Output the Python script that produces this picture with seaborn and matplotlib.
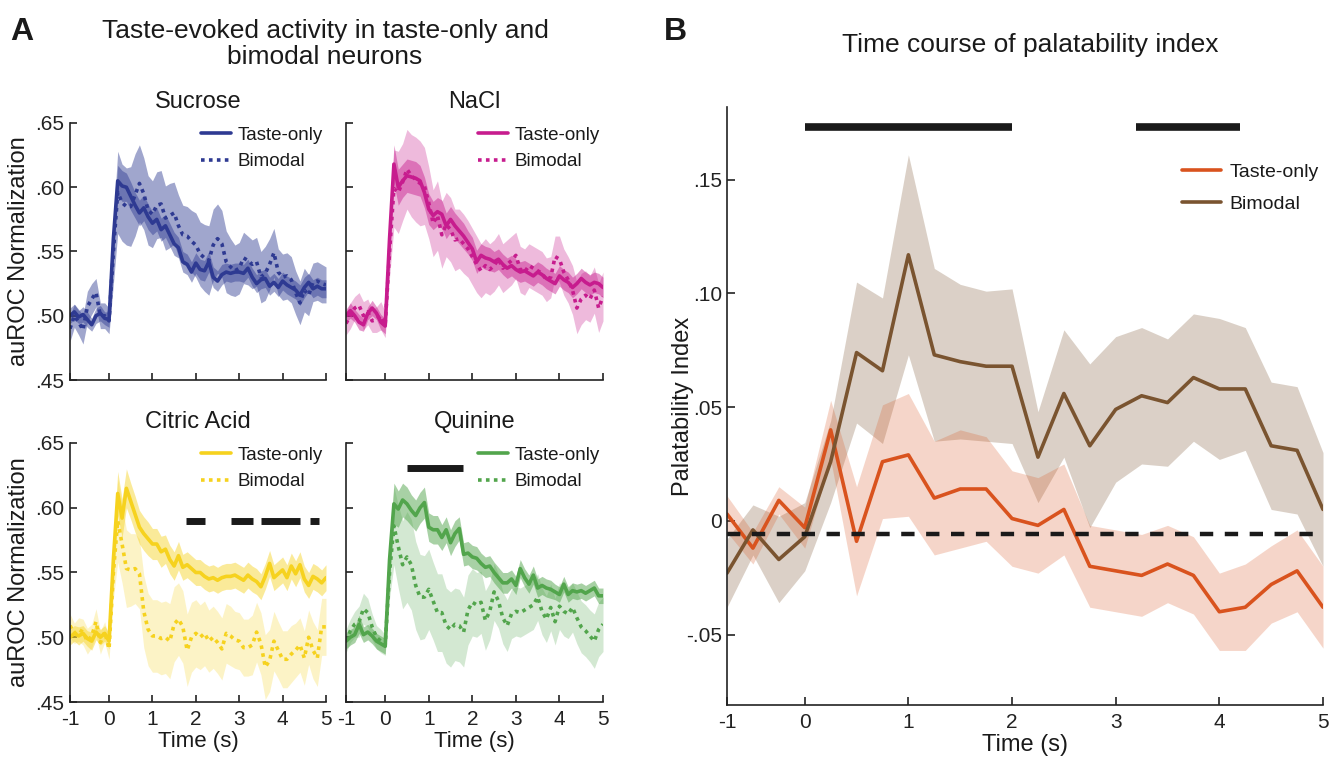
import numpy as np
import pandas as pd
import matplotlib
matplotlib.use("Agg")
import matplotlib.pyplot as plt
import seaborn as sns

# ---------------- panel A data (auROC, 0.1 s bins, first bin at -0.9 s) ----------------
timeA = np.round(np.linspace(-0.9, 5.0, 60), 2)

sucrose_taste = [.500, .503, .499, .501, .497, .493, .500, .502, .498, .497,
                 .560, .605, .601, .600, .593, .586, .580, .584, .577, .572,
                 .575, .567, .570, .563, .556, .553, .542, .540, .534, .541,
                 .536, .535, .542, .530, .527, .532, .534, .533, .534, .534,
                 .533, .537, .530, .525, .528, .529, .523, .526, .522, .527,
                 .524, .522, .520, .516, .522, .526, .521, .523, .521, .521]
sucrose_taste_sem = [.006, .006, .005, .006, .006, .005, .006, .006, .005, .006,
                     .010, .012, .012, .011, .011, .010, .010, .010, .010, .009,
                     .009, .009, .009, .009, .009, .008, .008, .008, .008, .008,
                     .008, .008, .008, .008, .008, .008, .007, .007, .007, .007,
                     .007, .007, .007, .007, .007, .007, .007, .007, .007, .007,
                     .007, .007, .007, .008, .008, .007, .007, .007, .007, .007]
sucrose_bim = [.490, .500, .495, .489, .507, .513, .518, .500, .500, .496,
               .550, .596, .588, .585, .585, .594, .603, .595, .582, .579,
               .586, .587, .576, .578, .580, .570, .563, .562, .558, .555,
               .548, .545, .543, .555, .560, .556, .542, .538, .535, .537,
               .545, .543, .540, .542, .530, .533, .540, .549, .534, .530,
               .531, .528, .518, .510, .520, .516, .526, .527, .525, .524]
sucrose_bim_sem = [.010, .009, .010, .011, .012, .012, .011, .010, .010, .010,
                   .025, .032, .030, .030, .031, .032, .030, .028, .027, .026,
                   .026, .026, .025, .025, .024, .024, .023, .023, .024, .025,
                   .025, .026, .027, .028, .027, .026, .024, .022, .020, .020,
                   .020, .019, .019, .019, .020, .021, .020, .019, .018, .018,
                   .018, .018, .017, .017, .017, .016, .015, .015, .015, .014]

nacl_taste = [.500, .504, .500, .495, .493, .502, .506, .502, .495, .492,
              .560, .618, .600, .605, .609, .608, .607, .605, .596, .583,
              .578, .581, .579, .570, .575, .570, .566, .562, .557, .552,
              .542, .547, .545, .544, .542, .544, .540, .537, .539, .536,
              .534, .535, .533, .531, .534, .532, .529, .527, .525, .531,
              .528, .526, .522, .525, .529, .526, .524, .526, .525, .522]
nacl_taste_sem = [.005, .006, .005, .006, .005, .005, .006, .005, .006, .006,
                  .012, .015, .014, .013, .013, .013, .013, .012, .012, .012,
                  .011, .011, .011, .010, .010, .010, .010, .010, .009, .009,
                  .009, .009, .009, .009, .008, .008, .008, .008, .008, .008,
                  .008, .008, .008, .008, .008, .008, .008, .008, .008, .008,
                  .008, .008, .008, .008, .008, .008, .008, .008, .008, .008]
nacl_bim = [.494, .500, .506, .508, .500, .503, .496, .497, .500, .493,
            .550, .599, .596, .604, .614, .609, .606, .603, .601, .588,
            .572, .578, .563, .571, .567, .559, .560, .556, .552, .546,
            .540, .535, .539, .536, .539, .544, .537, .540, .543, .547,
            .536, .534, .539, .537, .535, .533, .528, .530, .546, .544,
            .534, .528, .520, .506, .513, .516, .513, .520, .506, .515]
nacl_bim_sem = [.009, .010, .009, .010, .011, .010, .009, .010, .011, .010,
                .020, .030, .032, .030, .031, .032, .033, .033, .030, .028,
                .026, .027, .026, .025, .025, .024, .023, .023, .022, .022,
                .022, .021, .021, .020, .020, .020, .019, .019, .019, .018,
                .018, .018, .017, .017, .017, .017, .017, .016, .016, .018,
                .018, .018, .019, .020, .020, .019, .018, .018, .019, .019]

citric_taste = [.500, .503, .501, .503, .499, .497, .504, .500, .503, .497,
                .560, .611, .592, .615, .605, .595, .585, .580, .576, .572,
                .572, .566, .568, .560, .555, .563, .554, .556, .553, .550,
                .550, .547, .545, .546, .544, .546, .547, .547, .548, .546,
                .544, .548, .545, .543, .539, .547, .557, .546, .549, .552,
                .546, .555, .549, .556, .545, .540, .547, .545, .542, .546]
citric_taste_sem = [.006, .006, .007, .006, .006, .007, .006, .006, .006, .006,
                    .015, .017, .015, .015, .014, .014, .013, .013, .013, .012,
                    .012, .012, .011, .011, .011, .011, .010, .010, .010, .010,
                    .010, .010, .010, .010, .010, .010, .010, .010, .010, .010,
                    .010, .010, .010, .010, .010, .010, .010, .010, .010, .010,
                    .010, .010, .010, .010, .010, .010, .010, .010, .010, .010]
citric_bim = [.509, .503, .506, .504, .497, .501, .512, .496, .504, .491,
              .550, .590, .572, .553, .552, .553, .549, .520, .506, .501,
              .501, .499, .500, .497, .510, .514, .508, .490, .500, .503,
              .500, .503, .497, .500, .496, .491, .503, .501, .498, .497,
              .492, .492, .494, .504, .495, .477, .482, .497, .490, .483,
              .483, .487, .490, .494, .484, .500, .490, .484, .508, .508]
citric_bim_sem = [.009, .008, .009, .010, .010, .009, .010, .009, .008, .008,
                  .020, .032, .030, .030, .028, .027, .027, .028, .028, .028,
                  .028, .028, .028, .029, .029, .028, .028, .028, .027, .026,
                  .025, .025, .024, .024, .024, .024, .023, .023, .022, .022,
                  .022, .022, .023, .023, .024, .025, .024, .023, .022, .022,
                  .022, .022, .021, .021, .021, .021, .022, .022, .022, .022]

quinine_taste = [.497, .500, .502, .510, .502, .504, .501, .497, .495, .493,
                 .560, .603, .599, .606, .603, .598, .594, .600, .604, .585,
                 .583, .583, .577, .583, .573, .580, .584, .564, .565, .562,
                 .561, .557, .554, .555, .550, .546, .542, .542, .545, .540,
                 .553, .546, .541, .548, .538, .540, .538, .537, .535, .533,
                 .541, .533, .536, .535, .536, .534, .536, .538, .532, .532]
quinine_taste_sem = [.006, .006, .006, .007, .006, .006, .006, .006, .006, .006,
                     .014, .016, .014, .013, .013, .012, .012, .012, .012, .011,
                     .011, .011, .010, .010, .010, .010, .009, .009, .009, .009,
                     .009, .008, .008, .008, .008, .008, .008, .008, .007, .007,
                     .007, .007, .007, .007, .007, .007, .007, .007, .006, .006,
                     .006, .006, .006, .006, .006, .006, .006, .006, .006, .006]
quinine_bim = [.497, .505, .510, .512, .522, .519, .508, .500, .497, .494,
               .550, .586, .570, .556, .562, .556, .540, .531, .531, .537,
               .528, .519, .519, .509, .506, .510, .509, .504, .521, .527,
               .525, .527, .513, .520, .535, .528, .515, .509, .518, .520,
               .519, .521, .523, .525, .531, .520, .514, .523, .512, .524,
               .520, .518, .523, .515, .508, .505, .501, .497, .506, .510]
quinine_bim_sem = [.009, .009, .010, .012, .012, .011, .010, .009, .009, .008,
                   .020, .030, .032, .034, .035, .035, .034, .033, .032, .031,
                   .030, .030, .030, .029, .029, .028, .028, .027, .027, .026,
                   .025, .024, .023, .022, .022, .021, .020, .020, .019, .019,
                   .019, .019, .019, .019, .018, .018, .018, .018, .018, .018,
                   .019, .019, .019, .020, .020, .020, .020, .021, .021, .021]

# significance bars (start, end) in s, and bar height
citric_sig = [(1.78, 2.2), (2.82, 3.32), (3.51, 4.41), (4.63, 4.85)]
citric_sig_y = 0.590
quinine_sig = [(0.51, 1.79)]
quinine_sig_y = 0.631

# ---------------- panel B data (palatability index, 0.25 s bins) ----------------
timeB = [-0.75, -0.5, -0.25, 0.0, 0.25, 0.5, 0.75, 1.0, 1.25, 1.5, 1.75, 2.0,
         2.25, 2.5, 2.75, 3.0, 3.25, 3.5, 3.75, 4.0, 4.25, 4.5, 4.75, 5.0]
pal_taste = [.003, -.012, .009, -.003, .040, -.009, .026, .029, .010, .014, .014, .001,
             -.002, .005, -.020, -.022, -.024, -.019, -.024, -.040, -.038, -.028, -.022, -.038]
pal_taste_sem = [.008, .007, .006, .009, .013, .024, .025, .027, .025, .026, .023, .021,
                 .021, .020, .018, .018, .018, .017, .017, .017, .019, .017, .018, .018]
pal_bim = [-.023, -.004, -.017, -.007, .026, .074, .066, .117, .073, .070, .068, .068,
           .028, .056, .033, .049, .055, .052, .063, .058, .058, .033, .031, .005]
pal_bim_sem = [.015, .011, .019, .015, .018, .031, .032, .044, .038, .034, .033, .034,
               .020, .028, .036, .032, .030, .028, .028, .031, .027, .028, .028, .025]
pal_threshold = -0.006
pal_sig = [(0.0, 2.0), (3.2, 4.2)]
pal_sig_y = 0.173

tastes = ["Sucrose", "NaCl", "Citric Acid", "Quinine"]
colors = {"Sucrose": "#2E3A92", "NaCl": "#C71C8E", "Citric Acid": "#F6D21E", "Quinine": "#52A54C"}
alphas = {"Sucrose": (0.45, 0.45), "NaCl": (0.45, 0.3), "Citric Acid": (0.45, 0.25), "Quinine": (0.5, 0.25)}
series = {
    "Sucrose": (sucrose_taste, sucrose_taste_sem, sucrose_bim, sucrose_bim_sem),
    "NaCl": (nacl_taste, nacl_taste_sem, nacl_bim, nacl_bim_sem),
    "Citric Acid": (citric_taste, citric_taste_sem, citric_bim, citric_bim_sem),
    "Quinine": (quinine_taste, quinine_taste_sem, quinine_bim, quinine_bim_sem),
}
sig_bars = {"Citric Acid": (citric_sig, citric_sig_y), "Quinine": (quinine_sig, quinine_sig_y)}

sns.set_style("ticks")
plt.rcParams['font.family'] = ['Liberation Sans', 'DejaVu Sans']
plt.rcParams['xtick.direction'] = 'in'
plt.rcParams['ytick.direction'] = 'in'
plt.rcParams['text.color'] = '#1a1a1a'
plt.rcParams['axes.labelcolor'] = '#1a1a1a'

W, H = 1339, 759
fig = plt.figure(figsize=(W / 100, H / 100), dpi=100)


def px_axes(left, top, right, bottom):
    return fig.add_axes([left / W, 1 - bottom / H, (right - left) / W, (bottom - top) / H])


boxes = {"Sucrose": (70, 123, 326, 380), "NaCl": (346, 123, 603, 380),
         "Citric Acid": (70, 443, 326, 702), "Quinine": (346, 443, 603, 702)}

for i, taste in enumerate(tastes):
    ax = px_axes(*boxes[taste])
    mt, st, mb, sb = series[taste]
    c = colors[taste]
    df = pd.DataFrame({"time": timeA, "taste": mt, "bim": mb})
    mt, st, mb, sb = map(np.array, (mt, st, mb, sb))
    ax.fill_between(timeA, mb - sb, mb + sb, color=c, alpha=alphas[taste][1], lw=0)
    ax.fill_between(timeA, mt - st, mt + st, color=c, alpha=alphas[taste][0], lw=0)
    sns.lineplot(data=df, x="time", y="taste", ax=ax, color=c, lw=2.6, label="Taste-only")
    sns.lineplot(data=df, x="time", y="bim", ax=ax, color=c, lw=2.6,
                 linestyle=(0, (1, 1.2)), label="Bimodal")
    if taste in sig_bars:
        bars, yb = sig_bars[taste]
        for a, b in bars:
            ax.plot([a, b], [yb, yb], color="#1a1a1a", lw=5, solid_capstyle="butt")
    ax.set_xlim(-0.9, 5.0)
    ax.set_ylim(0.45, 0.65)
    ax.set_xticks([-0.9, 0, 1, 2, 3, 4, 5])
    ax.set_yticks([0.45, 0.50, 0.55, 0.60, 0.65])
    sns.despine(ax=ax)
    ax.tick_params(length=5, width=1.2, labelsize=15, colors="#222222")
    ax.tick_params(axis="x", pad=6)
    ax.tick_params(axis="y", pad=4)
    for s in ("left", "bottom"):
        ax.spines[s].set_linewidth(1.2)
        ax.spines[s].set_color("#222222")
    if i % 2 == 0:
        ax.set_yticklabels([".45", ".50", ".55", ".60", ".65"])
        ax.set_ylabel("auROC Normalization", fontsize=17, labelpad=4)
    else:
        ax.set_yticklabels([])
        ax.set_ylabel("")
    if i >= 2:
        ax.set_xticklabels(["-1", "0", "1", "2", "3", "4", "5"])
        ax.set_xlabel("Time (s)", fontsize=16, labelpad=1)
    else:
        ax.set_xticklabels([])
        ax.set_xlabel("")
    ax.set_title(taste, fontsize=17, pad=11)
    ax.legend(loc="upper right", bbox_to_anchor=(1.03, 1.03), frameon=False, fontsize=13.5,
              handlelength=1.6, handletextpad=0.35, labelspacing=0.5, borderaxespad=0.2)

# ---------------- panel B ----------------
axB = px_axes(727, 107, 1323, 705)
dfB = pd.DataFrame({"time": timeB, "taste": pal_taste, "bim": pal_bim})
tB = np.array(timeB)
pt, pts, pb, pbs = map(np.array, (pal_taste, pal_taste_sem, pal_bim, pal_bim_sem))
c_taste, c_bim = "#D9531E", "#7A5430"
axB.fill_between(tB, pb - pbs, pb + pbs, color=c_bim, alpha=0.27, lw=0)
axB.fill_between(tB, pt - pts, pt + pts, color=c_taste, alpha=0.24, lw=0)
sns.lineplot(data=dfB, x="time", y="taste", ax=axB, color=c_taste, lw=2.6, label="Taste-only")
sns.lineplot(data=dfB, x="time", y="bim", ax=axB, color=c_bim, lw=2.6, label="Bimodal")
axB.plot([-0.75, 4.9], [pal_threshold, pal_threshold], color="#1a1a1a", lw=3.2, dashes=(3, 2.6))
for a, b in pal_sig:
    axB.plot([a, b], [pal_sig_y, pal_sig_y], color="#1a1a1a", lw=5.5, solid_capstyle="butt")
axB.set_xlim(-0.75, 5.0)
axB.set_ylim(-0.081, 0.182)
axB.set_xticks([-0.75, 0, 1, 2, 3, 4, 5])
axB.set_xticklabels(["-1", "0", "1", "2", "3", "4", "5"])
axB.set_yticks([-0.05, 0, 0.05, 0.10, 0.15])
axB.set_yticklabels(["-.05", "0", ".05", ".10", ".15"])
sns.despine(ax=axB)
axB.tick_params(length=6, width=1.2, labelsize=15, colors="#222222")
axB.tick_params(axis="x", pad=6)
for s in ("left", "bottom"):
    axB.spines[s].set_linewidth(1.2)
    axB.spines[s].set_color("#222222")
axB.set_xlabel("Time (s)", fontsize=17, labelpad=1)
axB.set_ylabel("Palatability Index", fontsize=17, labelpad=-6)
axB.legend(loc="upper right", bbox_to_anchor=(1.022, 0.935), frameon=False, fontsize=14,
           handlelength=2.0, handletextpad=0.45, labelspacing=0.75)

# titles and panel letters
fig.text(325 / W, 1 - 44 / H, "Taste-evoked activity in taste-only and\nbimodal neurons",
         ha="center", va="center", fontsize=19, linespacing=1.1)
fig.text(1030 / W, 1 - 45 / H, "Time course of palatability index", ha="center", va="center",
         fontsize=19)
fig.text(10 / W, 1 - 32 / H, "A", fontsize=23, fontweight="bold", va="center")
fig.text(664 / W, 1 - 32 / H, "B", fontsize=23, fontweight="bold", va="center")

fig.savefig("out.png", dpi=100)
